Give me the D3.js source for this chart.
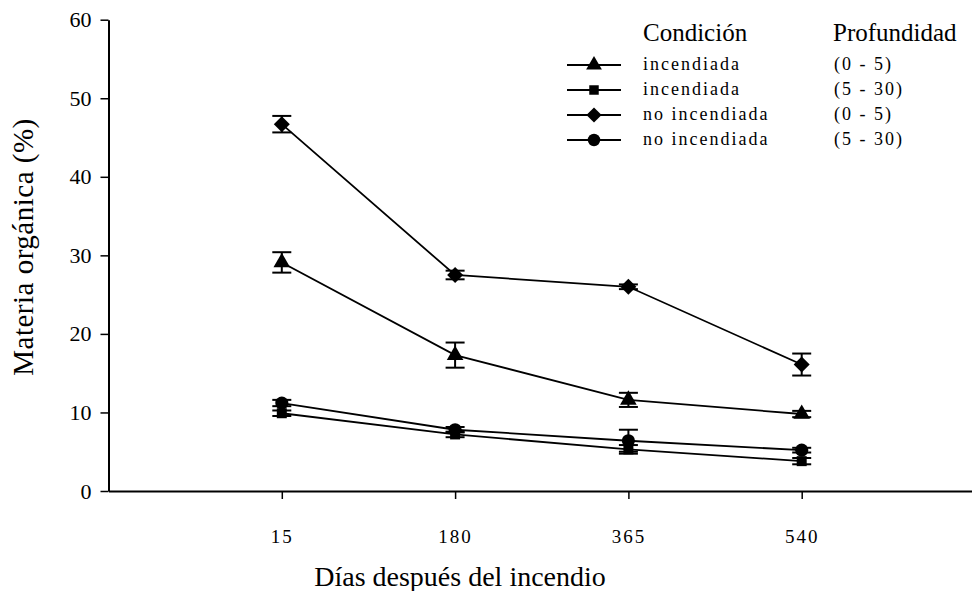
<!DOCTYPE html>
<head>
    <meta charset="utf-8">
    <script src="https://d3js.org/d3.v7.min.js"></script>
    <style>
        body { margin: 0; background: #fff; }
        text { font-family: "Liberation Serif", "Times New Roman", serif; fill: #000; }
    </style>
</head>
<div id="my_dataviz"></div>
<script>
// categories (days after fire)
var days = ["15", "180", "365", "540"];
var yTicks = [0, 10, 20, 30, 40, 50, 60];

// series: organic matter (%) and error
var incend05 = [29.1, 17.3, 11.6, 9.8];
var incend05Err = [1.3, 1.6, 0.9, 0.4];
var incend530 = [9.9, 7.2, 5.3, 3.8];
var incend530Err = [0.35, 0.35, 0.55, 0.4];
var noinc05 = [46.7, 27.5, 26.0, 16.1];
var noinc05Err = [1.05, 0.55, 0.3, 1.4];
var noinc530 = [11.2, 7.8, 6.4, 5.2];
var noinc530Err = [0.4, 0.35, 1.4, 0.3];

var legendCond = ["incendiada", "incendiada", "no incendiada", "no incendiada"];
var legendDepth = ["(0 - 5)", "(5 - 30)", "(0 - 5)", "(5 - 30)"];

var series = [
    { values: incend05, err: incend05Err, shape: "triangle" },
    { values: incend530, err: incend530Err, shape: "square" },
    { values: noinc05, err: noinc05Err, shape: "diamond" },
    { values: noinc530, err: noinc530Err, shape: "circle" }
];

var width = 972, height = 591;
var svg = d3.select("#my_dataviz")
    .append("svg")
    .attr("width", width)
    .attr("height", height);

// x: categories at positions 1..4 on a 0..5 axis
var x = d3.scaleLinear().domain([0, 5]).range([108.5, 975]);
var y = d3.scaleLinear().domain([0, 60]).range([491, 19.7]);

// X axis
var gx = svg.append("g")
    .attr("transform", "translate(0," + y(0) + ")")
    .call(d3.axisBottom(x)
        .tickValues([1, 2, 3, 4])
        .tickFormat(function(d) { return days[d - 1]; })
        .tickSize(8)
        .tickSizeOuter(0));
gx.select(".domain").attr("stroke-width", 2);
gx.selectAll(".tick line").attr("stroke-width", 1.5);
gx.selectAll("text")
    .attr("y", 52)
    .attr("dy", 0)
    .style("font-size", "19px")
    .style("letter-spacing", "2px")
    .attr("fill", "#000");

// Y axis
var gy = svg.append("g")
    .attr("transform", "translate(" + x(0) + ",0)")
    .call(d3.axisLeft(y)
        .tickValues(yTicks)
        .tickSize(8)
        .tickPadding(9)
        .tickSizeOuter(0));
gy.select(".domain").attr("stroke-width", 2);
gy.selectAll(".tick line").attr("stroke-width", 1.5);
gy.selectAll("text")
    .style("font-size", "22px")
    .attr("fill", "#000");

// axis titles
svg.append("text")
    .attr("x", 460)
    .attr("y", 586)
    .attr("text-anchor", "middle")
    .style("font-size", "28px")
    .text("Días después del incendio");

svg.append("text")
    .attr("transform", "translate(33,247) rotate(-90)")
    .attr("text-anchor", "middle")
    .style("font-size", "29px")
    .style("letter-spacing", "0.5px")
    .text("Materia orgánica (%)");

function symbolFor(shape, scale) {
    scale = scale || 1;
    if (shape == "triangle") return d3.symbol().type(d3.symbolTriangle).size(120 * scale)();
    if (shape == "square") return d3.symbol().type(d3.symbolSquare).size(100 * scale)();
    if (shape == "diamond") return d3.symbol().type(d3.symbolSquare).size(128 * scale)();
    return d3.symbol().type(d3.symbolCircle).size(135 * scale)();
}
function rot(shape) { return shape == "diamond" ? " rotate(45)" : ""; }

var capW = 9.5;

series.forEach(function(s) {
    var pts = s.values.map(function(v, i) { return { i: i + 1, v: v, e: s.err[i] }; });

    // error bars
    var eb = svg.append("g").attr("stroke", "black").attr("stroke-width", 2);
    eb.selectAll("vert").data(pts).enter().append("line")
        .attr("x1", function(d) { return x(d.i); })
        .attr("x2", function(d) { return x(d.i); })
        .attr("y1", function(d) { return y(d.v - d.e); })
        .attr("y2", function(d) { return y(d.v + d.e); });
    eb.selectAll("capTop").data(pts).enter().append("line")
        .attr("x1", function(d) { return x(d.i) - capW; })
        .attr("x2", function(d) { return x(d.i) + capW; })
        .attr("y1", function(d) { return y(d.v + d.e); })
        .attr("y2", function(d) { return y(d.v + d.e); });
    eb.selectAll("capBot").data(pts).enter().append("line")
        .attr("x1", function(d) { return x(d.i) - capW; })
        .attr("x2", function(d) { return x(d.i) + capW; })
        .attr("y1", function(d) { return y(d.v - d.e); })
        .attr("y2", function(d) { return y(d.v - d.e); });

    // line
    svg.append("path")
        .datum(pts)
        .attr("fill", "none")
        .attr("stroke", "black")
        .attr("stroke-width", 1.8)
        .attr("d", d3.line()
            .x(function(d) { return x(d.i); })
            .y(function(d) { return y(d.v); }));

    // markers
    svg.selectAll("marks").data(pts).enter().append("path")
        .attr("d", symbolFor(s.shape))
        .attr("transform", function(d) { return "translate(" + x(d.i) + "," + y(d.v) + ")" + rot(s.shape); })
        .attr("fill", "black");
});

// legend
svg.append("text").attr("x", 643).attr("y", 41).style("font-size", "25px").text("Condición");
svg.append("text").attr("x", 833).attr("y", 41).style("font-size", "25px").text("Profundidad");

var legendY = d3.scaleLinear().domain([0, 3]).range([65, 140]);
var lg = svg.append("g");
series.forEach(function(s, i) {
    var ly = legendY(i);
    lg.append("line")
        .attr("x1", 567).attr("x2", 621)
        .attr("y1", ly).attr("y2", ly)
        .attr("stroke", "black").attr("stroke-width", 2);
    lg.append("path")
        .attr("d", symbolFor(s.shape, 0.9))
        .attr("transform", "translate(594," + ly + ")" + rot(s.shape))
        .attr("fill", "black");
    lg.append("text")
        .attr("x", 643).attr("y", ly + 5)
        .style("font-size", "18px")
        .style("letter-spacing", "2px")
        .text(legendCond[i]);
    lg.append("text")
        .attr("x", 834).attr("y", ly + 5)
        .style("font-size", "18px")
        .style("letter-spacing", "2px")
        .text(legendDepth[i]);
});
</script>
